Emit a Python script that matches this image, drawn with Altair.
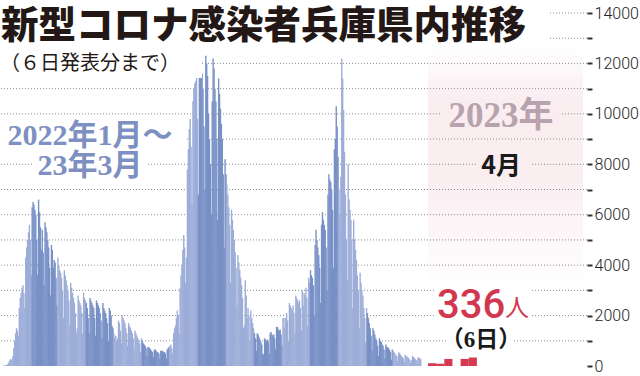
import altair as alt
import pandas as pd

# ---------------- data (daily new cases, Hyogo) ----------------
month_starts = [
    "2022-01-01", "2022-02-01", "2022-03-01", "2022-04-01", "2022-05-01",
    "2022-06-01", "2022-07-01", "2022-08-01", "2022-09-01", "2022-10-01",
    "2022-11-01", "2022-12-01", "2023-01-01", "2023-02-01", "2023-03-01",
]

jan22 = [20, 20, 25, 30, 60, 100, 180,
         250, 280, 230, 400, 700, 1000, 1300,
         1500, 1400, 1200, 2300, 2700, 2900, 3100,
         3200, 2900, 2300, 4300, 4700, 5000, 5300,
         5600, 5000, 3600]
feb22 = [6300, 6500, 6400, 6200, 6000, 5000, 3600,
         6600, 6100, 5500, 4600, 5400, 4500, 3200,
         5700, 5500, 5300, 5000, 4700, 3900, 2800,
         4800, 4600, 3900, 4200, 4100, 3500, 2400]
mar22 = [4300, 4000, 3800, 3700, 3500, 3000, 1900,
         3800, 3600, 3400, 3200, 3000, 2600, 1600,
         3300, 3100, 2900, 2700, 2500, 2100, 1300,
         1500, 2800, 2600, 2500, 2400, 2100, 1300,
         2900, 2700, 2600]
apr22 = [2500, 2300, 1900, 1300, 2700, 2600, 2500,
         2400, 2300, 1900, 1200, 2600, 2500, 2400,
         2300, 2100, 1800, 1100, 2500, 2300, 2200,
         2100, 1900, 1700, 1000, 2300, 2200, 2000,
         1600, 1500]
may22 = [1300, 1100, 1200, 1000, 1100, 1800, 1700,
         1400, 900, 2000, 1900, 1800, 1700, 1500,
         1300, 800, 1700, 1600, 1500, 1400, 1300,
         1100, 700, 1400, 1300, 1200, 1100, 1000,
         900, 550, 1100]
jun22 = [1000, 900, 850, 800, 700, 400, 750,
         750, 700, 650, 600, 550, 350, 650,
         650, 600, 550, 550, 500, 300, 600,
         600, 600, 550, 550, 500, 300, 650,
         700, 750]
jul22 = [800, 850, 700, 500, 1300, 1500, 1600,
         1900, 2200, 2000, 1300, 3100, 3600, 4000,
         4600, 5200, 4700, 3300, 4300, 7800, 8600,
         9400, 9800, 8700, 6400, 10500, 11000, 11200,
         11300, 11500, 9800]
aug22 = [6800, 11800, 12000, 11900, 11600, 11000, 9500,
         7000, 12300, 12000, 11500, 10000, 9000, 8000,
         6000, 10500, 12200, 11800, 11000, 10500, 9000,
         5800, 11400, 10800, 10200, 9600, 9000, 7600,
         4700, 8200, 7600]
sep22 = [7200, 6800, 6300, 5600, 3300, 6200, 5800,
         5400, 5000, 4500, 3900, 2400, 4400, 4100,
         3800, 3500, 3200, 2700, 1500, 1600, 3400,
         2800, 1900, 2300, 2000, 1000, 2200, 1900,
         1700, 1500]
oct22 = [1300, 1100, 600, 1300, 1250, 1150, 1050,
         950, 850, 500, 450, 1100, 1050, 1000,
         1050, 950, 500, 1300, 1350, 1250, 1200,
         1250, 1100, 650, 1550, 1550, 1450, 1400,
         1450, 1250, 800]
nov22 = [1900, 1900, 1500, 1900, 2100, 1800, 1000,
         2500, 2400, 2300, 2200, 2400, 2100, 1300,
         2800, 2700, 2600, 2500, 2600, 2300, 1400,
         3000, 2400, 2900, 2800, 3100, 2700, 1600,
         3500, 3300]
dec22 = [3800, 3600, 3500, 3200, 2000, 4800, 5400,
         5000, 4700, 4400, 3900, 2500, 5600, 6100,
         5800, 5600, 5400, 4700, 3000, 6800, 7600,
         7400, 7300, 7000, 6200, 3900, 8600, 9000,
         10300, 9500, 8300]
jan23 = [7000, 6000, 7500, 12200, 11400, 10150, 8500,
         6800, 5000, 3400, 8000, 6600, 6200, 5800,
         5000, 2300, 5800, 5000, 4600, 4200, 3600,
         3000, 1500, 3700, 3300, 3000, 2800, 2300,
         1900, 950, 2300]
feb23 = [2100, 1900, 1700, 1500, 1200, 600, 1500,
         1400, 1250, 1100, 1000, 800, 400, 1100,
         1000, 950, 850, 800, 650, 300, 850,
         750, 750, 700, 650, 550, 250, 650]
mar23 = [600, 550, 500, 450, 400, 200, 550,
         500, 450, 400, 350, 300, 150, 450,
         400, 380, 350, 300, 250, 120, 230,
         400, 350, 320, 280, 240, 120, 350,
         330, 300, 280]

month_values = [jan22, feb22, mar22, apr22, may22, jun22, jul22, aug22,
                sep22, oct22, nov22, dec22, jan23, feb23, mar23]

apr23_start = "2023-04-01"
apr23 = [110, 90, 280, 0, 280, 336]

grid_levels = list(range(1000, 14001, 1000))
tick_values = list(range(0, 14001, 1000))

# ---------------- tables ----------------
rows = []
for i, (start, vals) in enumerate(zip(month_starts, month_values)):
    dates = pd.date_range(start, periods=len(vals), freq="D")
    for d, v in zip(dates, vals):
        rows.append({"date": d.strftime("%Y-%m-%d"),
                     "end": (d + pd.Timedelta(days=1)).strftime("%Y-%m-%d"),
                     "cases": v,
                     "tone": "light" if i % 2 == 0 else "dark"})
blue_df = pd.DataFrame(rows)

apr_dates = pd.date_range(apr23_start, periods=len(apr23), freq="D")
red_df = pd.DataFrame({
    "date": [d.strftime("%Y-%m-%d") for d in apr_dates],
    "end": [(d + pd.Timedelta(days=1)).strftime("%Y-%m-%d") for d in apr_dates],
    "cases": apr23,
})
grid_df = pd.DataFrame({"level": grid_levels})

# ---------------- scales / axis ----------------
TOP = 13
yscale = alt.Scale(domain=[0, 14000], nice=False, zero=True)
yaxis = alt.Axis(
    orient="right", values=tick_values, format="d",
    labelExpr="datum.value % 2000 == 0 ? datum.label : ''",
    domain=False, grid=False, ticks=True, tickSize=5, tickWidth=2,
    tickColor="#333333", labelPadding=2, labelFont="Roboto",
    labelFontWeight=300, labelFontSize=16, labelColor="#222222", title=None,
)

CJK = "Noto Sans CJK JP"
SERIF = "Liberation Serif, Noto Sans CJK JP"


def one(v="x"):
    return pd.DataFrame({"t": [v]})


# pink panel behind April
pink = alt.Chart(one()).mark_rect(
    color=alt.Gradient(
        gradient="linear", x1=0, x2=0, y1=0, y2=1,
        stops=[alt.GradientStop(color="#ffffff", offset=0),
               alt.GradientStop(color="#f9edf0", offset=0.22),
               alt.GradientStop(color="#faeef1", offset=0.55),
               alt.GradientStop(color="#ffffff", offset=1)],
    )
).encode(x=alt.value(428), x2=alt.value(583), y=alt.value(48 - TOP), y2=alt.value(290 - TOP))

grid = alt.Chart(grid_df).mark_rule(
    color="#8c8c8c", strokeWidth=1, strokeDash=[1, 2]
).encode(y=alt.Y("level:Q", scale=yscale, axis=yaxis))

blue = alt.Chart(blue_df).mark_rect(x2Offset=0.45).encode(
    x=alt.X("date:T", axis=None,
            scale=alt.Scale(domain=[alt.DateTime(year=2022, month=1, date=1),
                                    alt.DateTime(year=2023, month=4, date=1)],
                            range=[3, 421])),
    x2="end:T",
    y=alt.Y("cases:Q", scale=yscale, axis=yaxis),
    y2=alt.datum(0),
    color=alt.Color("tone:N", legend=None,
                    scale=alt.Scale(domain=["light", "dark"], range=["#9cadd8", "#7890c6"])),
)

red = alt.Chart(red_df).mark_rect(color="#d63a52").encode(
    x=alt.X("date:T", axis=None,
            scale=alt.Scale(domain=[alt.DateTime(year=2023, month=4, date=1),
                                    alt.DateTime(year=2023, month=4, date=21)],
                            range=[428, 591])),
    x2="end:T",
    y=alt.Y("cases:Q", scale=yscale, axis=yaxis),
    y2=alt.datum(0),
)


def box(x1, x2, y1, y2, fill="#ffffff"):
    return alt.Chart(one()).mark_rect(color=fill).encode(
        x=alt.value(x1), x2=alt.value(x2), y=alt.value(y1 - TOP), y2=alt.value(y2 - TOP))


def label(txt, x, y, **kw):
    return alt.Chart(one(txt)).mark_text(**kw).encode(
        text="t:N", x=alt.value(x), y=alt.value(y - TOP))


boxes = [
    box(0, 548, 0, 48),
    box(0, 202, 48, 78),
    box(0, 185, 121, 151),
    box(33, 147, 152, 179),
    box(440, 560, 100, 130, "#f9edf0"),
    box(477, 530, 155, 176, "#faeef1"),
    box(436, 531, 281, 320),
    box(447, 514, 326, 354),
]

texts = [
    label("新型コロナ感染者兵庫県内推移", 1, 27, font=CJK, fontSize=37.5, fontWeight=900,
          align="left", baseline="middle", color="#231815"),
    label("（６日発表分まで）", 0, 64, font=CJK, fontSize=20, align="left",
          baseline="middle", color="#231815"),
    label("2022年1月〜", 90, 136, font=SERIF, fontSize=30, fontWeight="bold",
          align="center", baseline="middle", color="#7e90c2"),
    label("23年3月", 90, 166, font=SERIF, fontSize=30, fontWeight="bold",
          align="center", baseline="middle", color="#7e90c2"),
    label("2023年", 501, 116, font=SERIF, fontSize=35, fontWeight="bold",
          align="center", baseline="middle", color="#b8a2ad"),
    label("4月", 501, 166, font=CJK, fontSize=25, fontWeight="bold",
          align="center", baseline="middle", color="#1a1a1a"),
    label("336", 437, 318, font="Roboto", fontSize=40, fontWeight=500,
          align="left", baseline="alphabetic", color="#d2374f"),
    label("人", 505, 316, font=CJK, fontSize=24,
          align="left", baseline="alphabetic", color="#d2374f"),
    label("（6日）", 481, 340, font=SERIF, fontSize=23, fontWeight="bold",
          align="center", baseline="middle", color="#1a1a1a"),
]

chart = alt.layer(pink, grid, blue, red, *boxes, *texts).resolve_scale(
    x="independent"
).properties(
    width=587, height=353,
    padding={"left": 0, "top": TOP, "right": 53, "bottom": 10},
    autosize=alt.AutoSizeParams(type="none"),
    background="#ffffff",
).configure_view(stroke=None)

chart.save("out.html", embed_options={"renderer": "svg", "actions": False})
